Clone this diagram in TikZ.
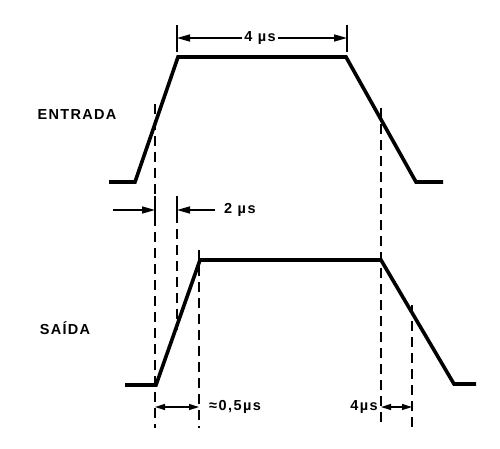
\documentclass[tikz,border=0pt]{standalone}
\usepackage{fontspec}
\setmainfont{Liberation Sans}
\usetikzlibrary{arrows.meta}
\begin{document}
\begin{tikzpicture}[x=1pt,y=-1pt,
  wave/.style={line width=3.6pt,line join=miter,line cap=butt},
  guide/.style={line width=1.6pt,dash pattern=on 10pt off 6pt},
  dim/.style={line width=1.5pt,-{Triangle[length=13pt,width=7pt]}},
  dimtwo/.style={line width=1.5pt,{Triangle[length=10pt,width=6pt]}-{Triangle[length=10pt,width=6pt]}},
  tick/.style={line width=1.6pt},
  lbl/.style={font={\bfseries\fontsize{14.5}{16}\selectfont\addfontfeatures{LetterSpace=10}},inner sep=2pt},
  wlabel/.style={font={\bfseries\fontsize{14.5}{16}\selectfont\addfontfeatures{LetterSpace=9}},inner sep=0pt}]
\useasboundingbox (0,0) rectangle (500,449);
% input waveform
\coordinate (i0) at (109,182);
\coordinate (i1) at (135,182);
\coordinate (i2) at (178,57);
\coordinate (i3) at (346,57);
\coordinate (i4) at (416,182);
\coordinate (i5) at (443,182);
\draw[wave] (i0) -- (i1) -- (i2) -- (i3) -- (i4) -- (i5);
% output waveform
\coordinate (o0) at (125,385);
\coordinate (o1) at (156,385);
\coordinate (o2) at (200,260);
\coordinate (o3) at (381,260);
\coordinate (o4) at (454,384);
\coordinate (o5) at (476,384);
\draw[wave] (o0) -- (o1) -- (o2) -- (o3) -- (o4) -- (o5);
% labels
\node[wlabel] (entrada) at (77,115) {ENTRADA};
\node[wlabel] (saida) at (65,328) {SAÍDA};
% dashed guides
\coordinate (g1t) at (155,104); \coordinate (g1b) at (155,428);
\coordinate (g2t) at (177,197); \coordinate (g2b) at (177,330);
\coordinate (g3t) at (199,250); \coordinate (g3b) at (199,428);
\coordinate (g4t) at (381,108); \coordinate (g4b) at (381,428);
\coordinate (g5t) at (412,305); \coordinate (g5b) at (412,428);
\foreach \g in {1,...,5} \draw[guide] (g\g t) -- (g\g b);
% top 4 us dimension
\coordinate (t1a) at (177,25); \coordinate (t1b) at (177,52);
\coordinate (t2a) at (347,25); \coordinate (t2b) at (347,52);
\draw[tick] (t1a) -- (t1b);
\draw[tick] (t2a) -- (t2b);
\node[lbl] (l4) at (260,38) {4 µs};
\coordinate (a1) at (177,38); \coordinate (a2) at (347,38);
\draw[dim] (l4.west) -- (a1);
\draw[dim] (l4.east) -- (a2);
% 2 us dimension
\coordinate (b0) at (113,210); \coordinate (b1) at (155,210);
\coordinate (b2) at (177,210); \coordinate (b3) at (215,210);
\coordinate (k1a) at (155,196); \coordinate (k1b) at (155,222);
\coordinate (k2a) at (177,196); \coordinate (k2b) at (177,222);
\draw[tick] (k1a) -- (k1b);
\draw[tick] (k2a) -- (k2b);
\draw[dim] (b0) -- (b1);
\draw[dim] (b3) -- (b2);
\node[lbl,anchor=west] (l2) at (222,210) {2 µs};
% bottom dimensions
\coordinate (c1) at (155,407); \coordinate (c2) at (199,407);
\draw[dimtwo] (c1) -- (c2);
\node[lbl,anchor=west] (l05) at (207,407) {≈0,5µs};
\coordinate (d1) at (381,407); \coordinate (d2) at (412,407);
\draw[dimtwo] (d1) -- (d2);
\node[lbl,anchor=east] (l4b) at (380,407) {4µs};
\end{tikzpicture}
\end{document}
